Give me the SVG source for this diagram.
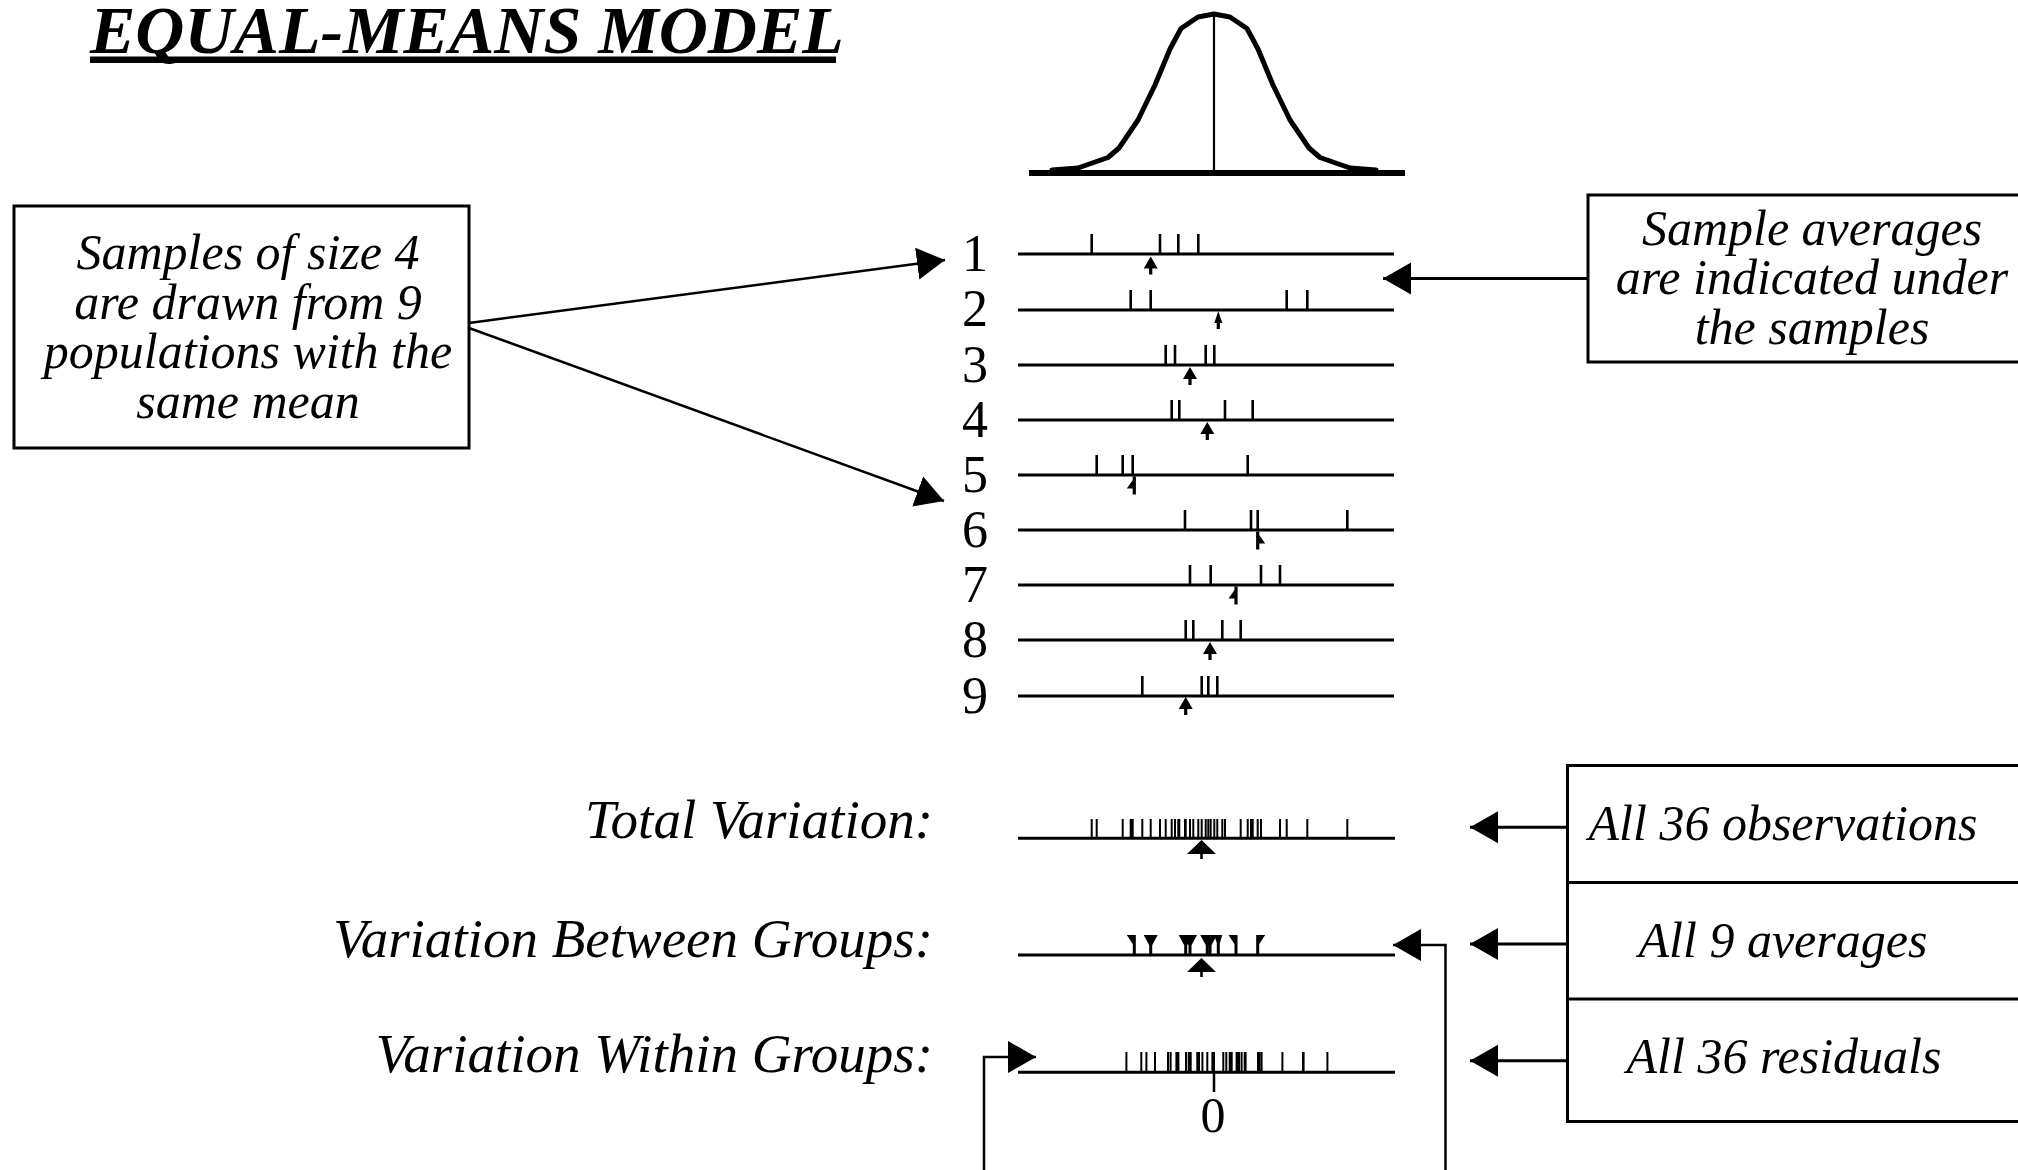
<svg xmlns="http://www.w3.org/2000/svg" width="2018" height="1170" viewBox="0 0 2018 1170">
<style>
text{font-family:"Liberation Serif","Times New Roman",serif;fill:#000}
.lbl{font-size:50px;font-style:italic;text-anchor:middle}
.big{font-size:55px;font-style:italic;text-anchor:end}
.num{font-size:52px;text-anchor:middle}
.ln{stroke:#000;stroke-width:3;fill:none}
.tk{stroke:#000;stroke-width:2.6;fill:none}
.tk2{stroke:#000;stroke-width:2;fill:none}
.con{stroke:#000;stroke-width:2.5;fill:none}
.con3{stroke:#000;stroke-width:3;fill:none}
.box{fill:none;stroke:#000;stroke-width:3}
</style>
<defs>
<marker id="ah" markerUnits="userSpaceOnUse" markerWidth="32" markerHeight="36" viewBox="0 -18 32 36" refX="28" refY="0" orient="auto">
<path d="M0,-16 L28,0 L0,16 Z" fill="#000"/>
</marker>
<path id="uf" d="M0,0 L7,12 L-7,12 Z M-1.6,5 H1.6 V18 H-1.6 Z" fill="#000"/>
<path id="un" d="M0,0 L4,12 L-4,12 Z M-1.6,5 H1.6 V18 H-1.6 Z" fill="#000"/>
<path id="ur" d="M-1,0 L7.5,12 L-1,12 Z M-1.6,0 H1.6 V18 H-1.6 Z" fill="#000"/>
<path id="ul" d="M1,0 L1,12 L-7.5,12 Z M-1.6,0 H1.6 V18 H-1.6 Z" fill="#000"/>
<path id="df" d="M-7,0 L7,0 L0,13 Z M-1.5,0 H1.5 V20 H-1.5 Z" fill="#000"/>
<path id="dn" d="M-4,0 L4,0 L0,13 Z M-1.5,0 H1.5 V20 H-1.5 Z" fill="#000"/>
<path id="dr" d="M-1,0 L7.5,0 L-1,13 Z M-1.5,0 H1.5 V20 H-1.5 Z" fill="#000"/>
<path id="dl" d="M-7.5,0 L1,0 L1,13 Z M-1.5,0 H1.5 V20 H-1.5 Z" fill="#000"/>
<path id="bm" d="M0,0 L14.5,14 L-14.5,14 Z M-1.3,12 H1.3 V19 H-1.3 Z" fill="#000"/>
</defs>

<g id="title">
<text x="90" y="53" style="font-size:68px;font-weight:bold;font-style:italic">EQUAL-MEANS MODEL</text>
<rect x="90" y="56.5" width="746" height="6.5" fill="#000"/>
</g>

<g id="population">
<line x1="1029" y1="173" x2="1405" y2="173" stroke="#000" stroke-width="6"/>
<polyline points="1052,170 1078,168 1108,157.5 1119,148 1138,120 1155,85 1170,49 1181,28.5 1198,17 1214,14 1230,17 1247,28.5 1258,49 1273,85 1290,120 1309,148 1320,157.5 1350,168 1376,170" fill="none" stroke="#000" stroke-width="5" stroke-linejoin="round" stroke-linecap="round"/>
<line x1="1214" y1="14" x2="1214" y2="172" stroke="#000" stroke-width="2.2"/>
</g>

<g id="samples-box">
<rect x="14" y="206" width="455" height="242" class="box"/>
<text class="lbl" x="248" y="269">Samples of size 4</text>
<text class="lbl" x="248" y="318.5">are drawn from 9</text>
<text class="lbl" x="248" y="368">populations with the</text>
<text class="lbl" x="248" y="417.5">same mean</text>
</g>

<g id="averages-box">
<rect x="1588" y="195" width="500" height="167" class="box"/>
<text class="lbl" x="1812" y="245">Sample averages</text>
<text class="lbl" x="1812" y="294">are indicated under</text>
<text class="lbl" x="1812" y="344">the samples</text>
</g>

<g id="sample-rows">
<text class="num" x="975" y="271">1</text>
<text class="num" x="975" y="326">2</text>
<text class="num" x="975" y="382">3</text>
<text class="num" x="975" y="437">4</text>
<text class="num" x="975" y="492">5</text>
<text class="num" x="975" y="547">6</text>
<text class="num" x="975" y="602">7</text>
<text class="num" x="975" y="657">8</text>
<text class="num" x="975" y="713">9</text>
<path class="ln" d="M1018,254H1394 M1018,310H1394 M1018,365H1394 M1018,420H1394 M1018,475H1394 M1018,530H1394 M1018,585H1394 M1018,640H1394 M1018,696H1394"/>
<path class="tk" d="M1091.7,234V254 M1160,234V254 M1178.3,234V254 M1198.3,234V254
M1130.7,290V310 M1150.7,290V310 M1286.7,290V310 M1307.3,290V310
M1165.7,345V365 M1175,345V365 M1205.7,345V365 M1214.3,345V365
M1171.7,400V420 M1179.3,400V420 M1225,400V420 M1252.7,400V420
M1096.7,455V475 M1122.7,455V475 M1132.7,455V475 M1247.7,455V475
M1185,510V530 M1251,510V530 M1257.7,510V530 M1347.3,510V530
M1190,565V585 M1210.7,565V585 M1261,565V585 M1280,565V585
M1185.7,620V640 M1193.3,620V640 M1222.3,620V640 M1240.7,620V640
M1142.3,676V696 M1201.7,676V696 M1208.3,676V696 M1217.3,676V696"/>
<use href="#uf" x="1150.7" y="256.5"/>
<use href="#un" x="1218.3" y="311"/>
<use href="#uf" x="1190" y="367"/>
<use href="#uf" x="1207.3" y="422"/>
<use href="#ul" x="1134.3" y="476.5"/>
<use href="#ur" x="1257.7" y="531.5"/>
<use href="#ul" x="1236" y="586.5"/>
<use href="#uf" x="1210" y="642"/>
<use href="#uf" x="1185.7" y="697"/>
</g>

<g id="total-variation">
<text class="big" x="933" y="838">Total Variation:</text>
<line x1="1018" y1="838.3" x2="1395" y2="838.3" class="ln"/>
<path class="tk2" d="M1091.7,819V838 M1096.7,819V838 M1122.7,819V838 M1130.7,819V838 M1132.7,819V838 M1142.3,819V838 M1150.7,819V838 M1160,819V838 M1165.7,819V838 M1171.7,819V838 M1175,819V838 M1178.3,819V838 M1179.3,819V838 M1185,819V838 M1185.7,819V838 M1190,819V838 M1193.3,819V838 M1198.3,819V838 M1201.7,819V838 M1205.7,819V838 M1208.3,819V838 M1210.7,819V838 M1214.3,819V838 M1217.3,819V838 M1222.3,819V838 M1225,819V838 M1240.7,819V838 M1247.7,819V838 M1251,819V838 M1252.7,819V838 M1257.7,819V838 M1261,819V838 M1280,819V838 M1286.7,819V838 M1307.3,819V838 M1347.3,819V838"/>
<use href="#bm" x="1201.5" y="840"/>
</g>

<g id="between-variation">
<text class="big" x="933" y="956.7">Variation Between Groups:</text>
<line x1="1018" y1="955" x2="1395" y2="955" class="ln"/>
<use href="#dl" x="1134.3" y="935"/>
<use href="#df" x="1150.7" y="935"/>
<use href="#df" x="1185.7" y="935"/>
<use href="#df" x="1190" y="935"/>
<use href="#df" x="1207.3" y="935"/>
<use href="#df" x="1210" y="935"/>
<use href="#dn" x="1218.3" y="935"/>
<use href="#dl" x="1236" y="935"/>
<use href="#dr" x="1257.7" y="935"/>
<use href="#bm" x="1201.5" y="958"/>
</g>

<g id="within-variation">
<text class="big" x="933" y="1071.7">Variation Within Groups:</text>
<line x1="1018" y1="1072.3" x2="1395" y2="1072.3" class="ln"/>
<path class="tk2" d="M1126.4,1052V1072 M1141.3,1052V1072 M1146.4,1052V1072 M1155,1052V1072 M1168,1052V1072 M1170.6,1052V1072 M1176.4,1052V1072 M1178.4,1052V1072 M1186,1052V1072 M1188.7,1052V1072 M1189.7,1052V1072 M1190.7,1052V1072 M1197.3,1052V1072 M1199,1052V1072 M1202.4,1052V1072 M1207.3,1052V1072 M1212.4,1052V1072 M1214,1052V1072 M1223.3,1052V1072 M1226.3,1052V1072 M1229.7,1052V1072 M1230,1052V1072 M1231.7,1052V1072 M1236.6,1052V1072 M1238.3,1052V1072 M1239,1052V1072 M1241.6,1052V1072 M1244.7,1052V1072 M1245.6,1052V1072 M1258,1052V1072 M1259.4,1052V1072 M1261.6,1052V1072 M1282.4,1052V1072 M1303,1052V1072 M1303.6,1052V1072 M1327.4,1052V1072"/>
<line x1="1214" y1="1072" x2="1214" y2="1092" stroke="#000" stroke-width="2.5"/>
<text x="1213" y="1131.7" style="font-size:50px;text-anchor:middle">0</text>
</g>

<g id="summary-boxes">
<rect x="1567.5" y="765.5" width="500" height="356" class="box"/>
<line x1="1567.5" y1="882.5" x2="2018" y2="882.5" class="box"/>
<line x1="1567.5" y1="999" x2="2018" y2="999" class="box"/>
<text class="lbl" x="1783" y="840">All 36 observations</text>
<text class="lbl" x="1783" y="956.7">All 9 averages</text>
<text class="lbl" x="1784" y="1073.3">All 36 residuals</text>
</g>

<g id="connectors">
<line class="con" x1="469" y1="323" x2="945" y2="260" marker-end="url(#ah)"/>
<line class="con" x1="469" y1="328" x2="944" y2="501" marker-end="url(#ah)"/>
<line class="con3" x1="1589" y1="278.5" x2="1383" y2="278.5" marker-end="url(#ah)"/>
<line class="con3" x1="1568" y1="827.3" x2="1470" y2="827.3" marker-end="url(#ah)"/>
<line class="con3" x1="1568" y1="944" x2="1470" y2="944" marker-end="url(#ah)"/>
<line class="con3" x1="1568" y1="1060.7" x2="1470" y2="1060.7" marker-end="url(#ah)"/>
<polyline class="con" points="1445.5,1172 1445.5,945 1393,945" marker-end="url(#ah)"/>
<polyline class="con" points="984,1172 984,1057 1036,1057" marker-end="url(#ah)"/>
</g>
</svg>
